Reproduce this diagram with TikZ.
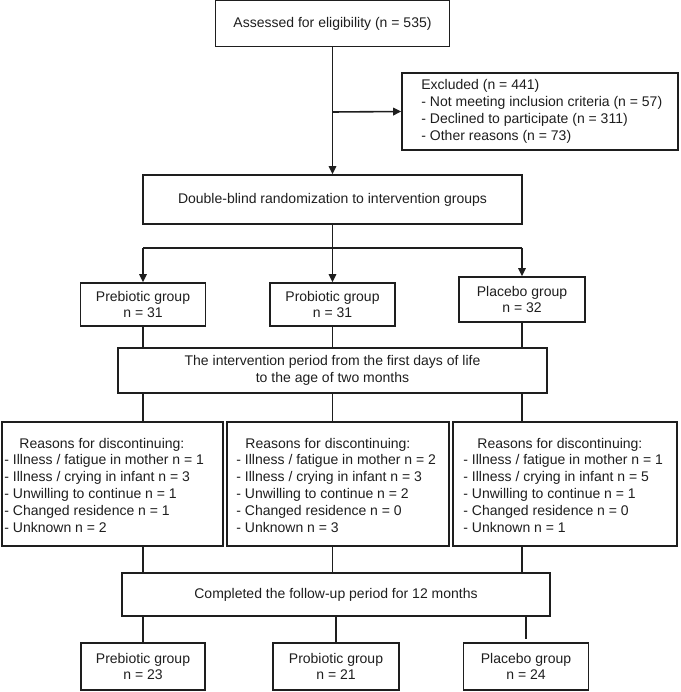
\documentclass[tikz,border=0pt]{standalone}
\usepackage{fontspec}
\setmainfont{Liberation Sans}
\usetikzlibrary{arrows.meta,calc}
\definecolor{ink}{HTML}{1E1E1E}
\begin{document}
\begin{tikzpicture}[x=1pt,y=-1pt,
  font=\fontsize{14}{16.8}\selectfont,
  every node/.style={text=ink},
  box/.style={draw=ink,line width=1.6pt,rectangle,inner sep=0pt,align=center},
  txt/.style={anchor=west,inner sep=0pt,align=left},
  conn/.style={draw=ink,line width=1.6pt},
  arr/.style={conn,-{Triangle[length=8pt,width=7.5pt]}}]
\useasboundingbox (0,0) rectangle (680,692);
% top
\node[box,minimum width=234,minimum height=46] (assess) at (332.5,23.5) {Assessed for eligibility (n = 535)};
\node[box,minimum width=276,minimum height=77] (excl) at (540,111.5) {};
\node[txt] (exclt) at ($(excl.west)+(20,0)$)
  {Excluded (n = 441)\\- Not meeting inclusion criteria (n = 57)\\- Declined to participate (n = 311)\\- Other reasons (n = 73)};
\node[box,minimum width=379,minimum height=49] (rand) at (332.5,199.5) {Double-blind randomization to intervention groups};
% groups
\node[box,minimum width=125,minimum height=43] (pre1) at (143,304.5) {Prebiotic group\\n = 31};
\node[box,minimum width=125,minimum height=43] (pro1) at (332.5,304.5) {Probiotic group\\n = 31};
\node[box,minimum width=126,minimum height=45] (pla1) at (522,299.5) {Placebo group\\n = 32};
\node[box,minimum width=429,minimum height=45] (interv) at (332.5,370.5) {The intervention period from the first days of life\\to the age of two months};
% reasons
\node[box,minimum width=221,minimum height=124] (r1) at (112.5,484) {};
\node[box,minimum width=222,minimum height=124] (r2) at (338,484) {};
\node[box,minimum width=224,minimum height=124] (r3) at (565,484) {};
\node[txt] (r1t) at ($(r1.west)+(3,1)$)
  {\hspace*{15pt}Reasons for discontinuing:\\- Illness / fatigue in mother n = 1\\- Illness / crying in infant n = 3\\- Unwilling to continue n = 1\\- Changed residence n = 1\\- Unknown n = 2};
\node[txt] (r2t) at ($(r2.west)+(10,1)$)
  {\hspace*{9pt}Reasons for discontinuing:\\- Illness / fatigue in mother n = 2\\- Illness / crying in infant n = 3\\- Unwilling to continue n = 2\\- Changed residence n = 0\\- Unknown n = 3};
\node[txt] (r3t) at ($(r3.west)+(11,1)$)
  {\hspace*{14pt}Reasons for discontinuing:\\- Illness / fatigue in mother n = 1\\- Illness / crying in infant n = 5\\- Unwilling to continue n = 1\\- Changed residence n = 0\\- Unknown n = 1};
\node[box,minimum width=428,minimum height=43] (comp) at (336,594.5) {Completed the follow-up period for 12 months};
% final
\node[box,minimum width=124,minimum height=47] (pre2) at (143,666.5) {Prebiotic group\\n = 23};
\node[box,minimum width=126,minimum height=47] (pro2) at (336,666.5) {Probiotic group\\n = 21};
\node[box,minimum width=125,minimum height=47] (pla2) at (526,666.5) {Placebo group\\n = 24};
% connectors
\coordinate (split) at (332.5,112);
\coordinate (junc) at (332.5,248);
\coordinate (jl) at (143,248);
\coordinate (jr) at (522,248);
\draw[arr] (assess.south) -- (rand.north);
\draw[arr] (split) -- (excl.west);
\draw[conn] (rand.south) -- (junc);
\draw[conn] (jl) -- (jr);
\draw[arr] (jl) -- (pre1.north);
\draw[arr] (junc) -- (pro1.north);
\draw[arr] (jr) -- (pla1.north);
\draw[conn] (pre1.south) -- (pre1.south |- interv.north);
\draw[conn] (pro1.south) -- (pro1.south |- interv.north);
\draw[conn] (pla1.south) -- (pla1.south |- interv.north);
\coordinate (c1) at (143,0);
\coordinate (c2) at (332.5,0);
\coordinate (c3) at (522,0);
\draw[conn] (c1 |- interv.south) -- (c1 |- r1.north);
\draw[conn] (c2 |- interv.south) -- (c2 |- r2.north);
\draw[conn] (c3 |- interv.south) -- (c3 |- r3.north);
\draw[conn] (c1 |- r1.south) -- (c1 |- comp.north);
\draw[conn] (c2 |- r2.south) -- (c2 |- comp.north);
\draw[conn] (c3 |- r3.south) -- (c3 |- comp.north);
\coordinate (pend) at (526,639);
\draw[conn] (pre2.north |- comp.south) -- (pre2.north);
\draw[conn] (pro2.north |- comp.south) -- (pro2.north);
\draw[conn] (pend |- comp.south) -- (pend);
\end{tikzpicture}
\end{document}
